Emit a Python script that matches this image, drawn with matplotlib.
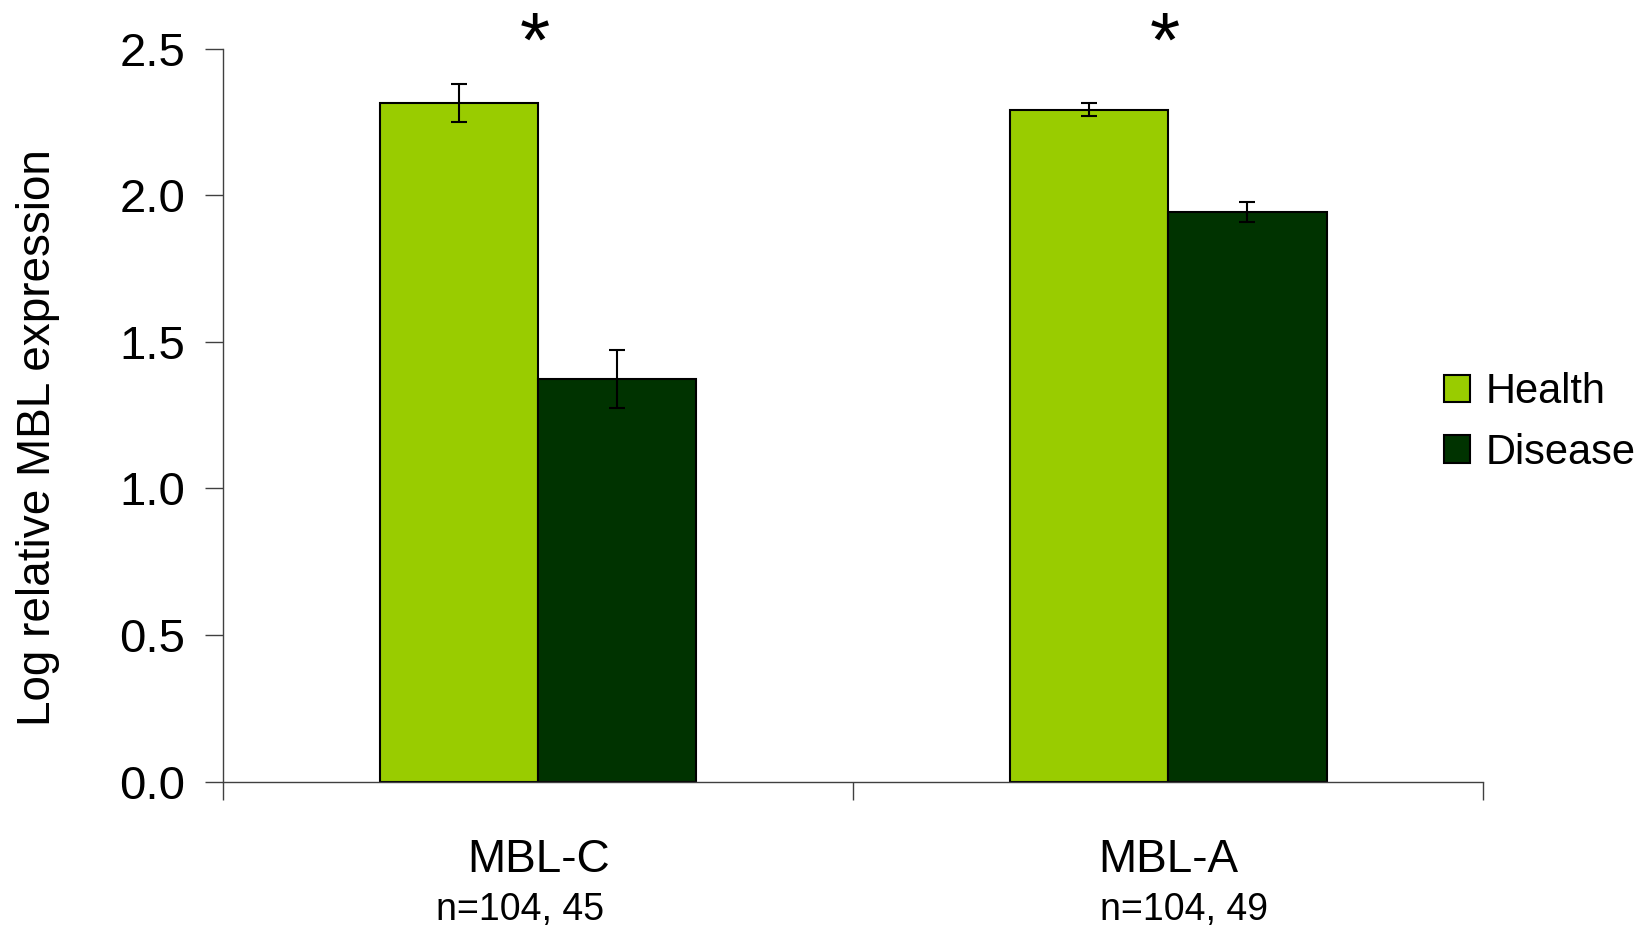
import matplotlib
matplotlib.use("Agg")
import matplotlib.pyplot as plt
import numpy as np

plt.rcParams['font.family'] = ['Liberation Sans', 'DejaVu Sans']

# data
genes = ["MBL-C", "MBL-A"]
sample_sizes = ["n=104, 45", "n=104, 49"]
health_mean = [2.315, 2.292]
health_err = [0.065, 0.023]
disease_mean = [1.373, 1.943]
disease_err = [0.098, 0.034]
significant = [True, True]

HEALTH_COLOR = "#99CC00"
DISEASE_COLOR = "#003300"

fig = plt.figure(figsize=(16.52, 9.30), dpi=100)
ax = fig.add_axes([0.135, 0.1594, 0.763, 0.7884])

x = np.arange(len(genes))
w = 0.251

ax.bar(x - w / 2, health_mean, w, color=HEALTH_COLOR, edgecolor="black",
       linewidth=1.5, label="Health")
ax.bar(x + w / 2, disease_mean, w, color=DISEASE_COLOR, edgecolor="black",
       linewidth=1.5, label="Disease")
ax.errorbar(x - w / 2, health_mean, yerr=health_err, fmt="none",
            ecolor="black", elinewidth=1.5, capsize=5.5, capthick=1.5)
ax.errorbar(x + w / 2, disease_mean, yerr=disease_err, fmt="none",
            ecolor="black", elinewidth=1.5, capsize=5.5, capthick=1.5)

# significance stars above the health bars
for xi, sig in zip(x, significant):
    if sig:
        ax.text(xi - 0.005, 2.51, "*", ha="center", va="center",
                fontsize=56, clip_on=False)

ax.set_xlim(-0.5, len(genes) - 0.5)
ax.set_ylim(0, 2.5)
ax.set_yticks([0, 0.5, 1.0, 1.5, 2.0, 2.5])
ax.set_yticklabels(["0.0", "0.5", "1.0", "1.5", "2.0", "2.5"], fontsize=34)
ax.set_xticks(np.arange(len(genes) + 1) - 0.5)
ax.set_xticklabels([])
ax.tick_params(axis="both", direction="out", length=13, width=1,
               color="#404040", pad=14)

for s in ["top", "right"]:
    ax.spines[s].set_visible(False)
for s in ["left", "bottom"]:
    ax.spines[s].set_color("#404040")
    ax.spines[s].set_linewidth(1)

# category labels under the axis (sample-size lines sit slightly off-centre)
n_shift = [-0.029, 0.025]
trans = ax.get_xaxis_transform()
for xi, g, n, dx in zip(x, genes, sample_sizes, n_shift):
    ax.text(xi, -0.107, g, transform=trans, ha="center", va="center",
            fontsize=33)
    ax.text(xi + dx, -0.175, n, transform=trans, ha="center", va="center",
            fontsize=27)

ax.set_ylabel("Log relative MBL expression", fontsize=33)
ax.yaxis.set_label_coords(-0.129, 0.47)

ax.legend(loc="center left", bbox_to_anchor=(0.874, 0.546),
          bbox_transform=fig.transFigure, frameon=False, fontsize=30,
          handlelength=0.63, handleheight=0.63, handletextpad=0.38,
          labelspacing=0.5, borderpad=0, borderaxespad=0)

fig.savefig("out.png", dpi=100)
